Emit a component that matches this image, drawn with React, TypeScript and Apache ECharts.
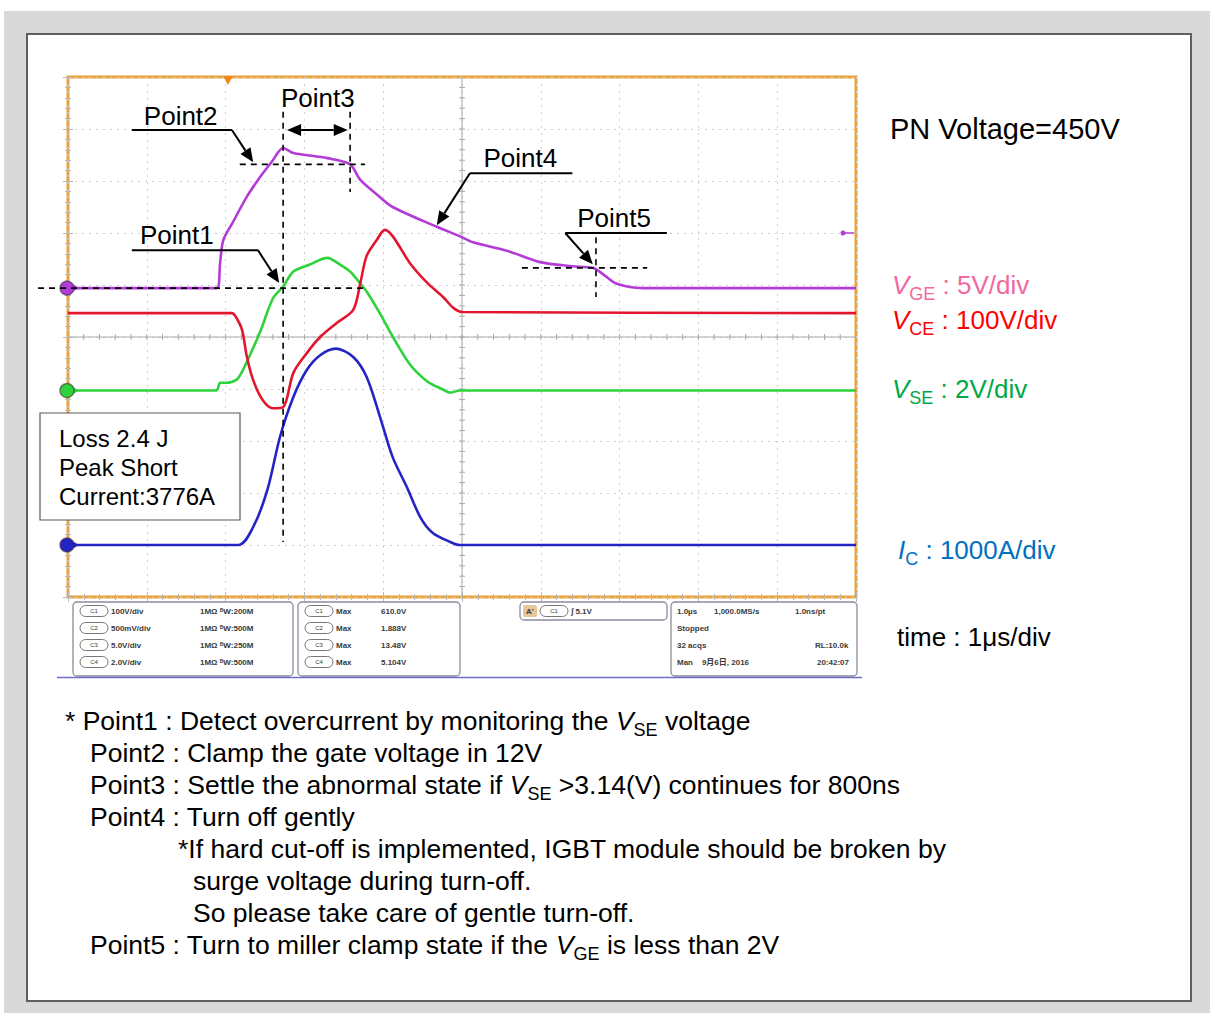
import React, { useEffect, useRef } from "react";
import * as echarts from "echarts";

const FONT = '"Liberation Sans", Arial, "Noto Sans CJK SC", sans-serif';

// Time base: 1 µs/div, 10 divisions; times in µs from the left edge of the record.
// VGE (C3, volts)
const vgeTime = [0, 1.89, 1.93, 1.97, 2.09, 2.27, 2.44, 2.6, 2.73, 2.86, 3.29, 3.58, 3.71, 3.92, 4.12, 4.68, 4.97, 5.14, 5.57, 5.99, 6.4, 6.66, 6.78, 6.94, 7.13, 7.3, 10];
const vgeVolts = [0, 0, 2.4, 4.6, 6.3, 8.8, 10.7, 12.3, 13.48, 13.0, 12.5, 11.9, 10.4, 9.0, 7.8, 5.9, 5.0, 4.4, 3.6, 2.5, 2.1, 1.95, 1.4, 0.5, 0.1, 0, 0];

// VCE (C1, volts)
const vceTime = [0, 2.08, 2.14, 2.21, 2.27, 2.35, 2.47, 2.6, 2.73, 2.86, 3.03, 3.2, 3.41, 3.62, 3.71, 3.79, 3.92, 4.02, 4.12, 4.34, 4.56, 4.76, 4.89, 5.01, 10];
const vceVolts = [450, 450, 440, 417, 366, 321, 283, 267, 269, 335, 373, 404, 431, 456, 508, 560, 591, 610, 598, 546, 508, 481, 460, 452, 450];

// VSE (C4, volts)
const vseTime = [0, 1.88, 1.93, 2.0, 2.14, 2.21, 2.3, 2.44, 2.6, 2.73, 2.86, 3.07, 3.29, 3.45, 3.58, 3.71, 3.79, 3.96, 4.12, 4.34, 4.56, 4.76, 4.85, 4.97, 10];
const vseVolts = [0, 0, 0.3, 0.3, 0.42, 0.73, 1.3, 2.27, 3.54, 4.0, 4.58, 4.85, 5.104, 4.85, 4.58, 4.11, 3.81, 2.96, 2.08, 1.0, 0.35, 0.04, -0.08, 0, 0];

// IC (C2, amperes)
const icTime = [0, 2.16, 2.35, 2.53, 2.69, 2.86, 3.03, 3.2, 3.4, 3.62, 3.79, 3.96, 4.12, 4.3, 4.47, 4.63, 4.85, 4.97, 10];
const icAmps = [0, 0, 346, 1058, 2077, 2846, 3365, 3650, 3776, 3615, 3230, 2460, 1690, 1115, 538, 230, 58, 0, 0];

// Scope channel settings: units per division and ground level (in divisions from the bottom)
const CHANNELS = [
  { key: "IC", time: icTime, values: icAmps, perDiv: 1000, groundDiv: 1.0, color: "#2424c6", marker: true },
  { key: "VSE", time: vseTime, values: vseVolts, perDiv: 2, groundDiv: 3.97, color: "#2ed23a", marker: true },
  { key: "VCE", time: vceTime, values: vceVolts, perDiv: 100, groundDiv: 0.96, color: "#e3162f", marker: false },
  { key: "VGE", time: vgeTime, values: vgeVolts, perDiv: 5, groundDiv: 5.94, color: "#b33bd8", marker: true },
];

const TRIGGER_TIME = 2.03;
const TRIGGER_LEVEL_DIV = 7.0;

// Readout panel texts
const chanSetup = [
  ["C1", "100V/div", "200M"],
  ["C2", "500mV/div", "500M"],
  ["C3", "5.0V/div", "250M"],
  ["C4", "2.0V/div", "500M"],
];
const chanMax = [
  ["C1", "610.0V"],
  ["C2", "1.888V"],
  ["C3", "13.48V"],
  ["C4", "5.104V"],
];

const notes = [
  "* Point1 : Detect overcurrent by monitoring the {v|V}{s|SE} voltage",
  "Point2 : Clamp the gate voltage in 12V",
  "Point3 : Settle the abnormal state if {v|V}{s|SE} >3.14(V) continues for 800ns",
  "Point4 : Turn off gently",
  "*If hard cut-off is implemented, IGBT module should be broken by",
  "surge voltage during turn-off.",
  "So please take care of gentle turn-off.",
  "Point5 : Turn to miller clamp state if the {v|V}{s|GE} is less than 2V",
];

const makeRich = (size: number) => ({
  v: { fontStyle: "italic", fontSize: size, lineHeight: 36, fontFamily: FONT },
  s: { fontSize: 18, lineHeight: 18, verticalAlign: "bottom", fontFamily: FONT },
});

export default function App() {
  const ref = useRef<HTMLDivElement>(null);

  useEffect(() => {
    const chart = echarts.init(ref.current!, null, { renderer: "svg", width: 1210, height: 1013 });

    const tickGray = "#b9b9b9";
    const xBase = {
      type: "value",
      min: 0,
      max: 10,
      interval: 1,
      axisLine: { show: false },
      axisLabel: { show: false },
      axisTick: { show: true, inside: true, length: 5, lineStyle: { color: tickGray } },
      minorTick: { show: true, splitNumber: 5, length: 3, lineStyle: { color: tickGray } },
      splitLine: { show: false },
    };

    chart.setOption({
      animation: false,
      backgroundColor: "#ffffff",
      grid: {
        left: 68,
        top: 77,
        width: 788,
        height: 520,
        show: true,
        backgroundColor: "#ffffff",
        borderColor: "#eaa23a",
        borderWidth: 3,
      },
      xAxis: [
        { ...xBase, position: "bottom", splitLine: { show: true, lineStyle: { color: "#cfcfcf", type: [2, 5], width: 1 } } },
        { ...xBase, position: "top" },
      ],
      yAxis: [
        { ...xBase, position: "left", splitLine: { show: true, lineStyle: { color: "#cfcfcf", type: [2, 5], width: 1 } } },
        { ...xBase, position: "right" },
      ],
      series: CHANNELS.map((ch, i) => ({
        type: "line",
        name: ch.key,
        xAxisIndex: 0,
        yAxisIndex: 0,
        showSymbol: false,
        smooth: 0.3,
        z: 3 + i,
        lineStyle: { color: ch.color, width: 2.6 },
        data: ch.time.map((t, k) => [t, ch.groundDiv + ch.values[k] / ch.perDiv]),
      })),
    });

    const toPx = (t: number, d: number) =>
      chart.convertToPixel({ gridIndex: 0 }, [t, d]) as number[];

    const els: any[] = [];

    // page background and framed panel
    els.push({ type: "rect", z: -100, shape: { x: 4, y: 11, width: 1206, height: 1002 }, style: { fill: "#d9d9d9" } });
    els.push({
      type: "rect",
      z: -99,
      shape: { x: 27, y: 34, width: 1164, height: 967 },
      style: { fill: "#ffffff", stroke: "#5f5f5f", lineWidth: 2 },
    });

    // graticule centre cross with fine ticks
    const [cx, cy] = toPx(5, 5);
    const [gx0, gy1] = toPx(0, 0);
    const [gx1, gy0] = toPx(10, 10);
    const centerStyle = { stroke: "#a9a9a9", lineWidth: 1 };
    els.push({ type: "line", z: 1, shape: { x1: gx0, y1: cy, x2: gx1, y2: cy }, style: centerStyle });
    els.push({ type: "line", z: 1, shape: { x1: cx, y1: gy0, x2: cx, y2: gy1 }, style: centerStyle });
    for (let i = 1; i < 50; i++) {
      const [tx] = toPx(i * 0.2, 5);
      const [, ty] = toPx(5, i * 0.2);
      els.push({ type: "line", z: 1, shape: { x1: tx, y1: cy - 3, x2: tx, y2: cy + 3 }, style: centerStyle });
      els.push({ type: "line", z: 1, shape: { x1: cx - 3, y1: ty, x2: cx + 3, y2: ty }, style: centerStyle });
    }

    // trigger position marker on top edge
    const [trx, tryy] = toPx(TRIGGER_TIME, 10);
    els.push({
      type: "polygon",
      z: 20,
      shape: { points: [[trx - 5, tryy - 1], [trx + 5, tryy - 1], [trx, tryy + 8]] },
      style: { fill: "#f08a1c" },
    });
    // trigger level marker on right edge
    const [tlx, tly] = toPx(10, TRIGGER_LEVEL_DIV);
    els.push({ type: "line", z: 20, shape: { x1: tlx - 14, y1: tly, x2: tlx - 2, y2: tly }, style: { stroke: "#b33bd8", lineWidth: 1.5 } });
    els.push({ type: "circle", z: 20, shape: { cx: tlx - 13, cy: tly, r: 2.5 }, style: { fill: "#b33bd8" } });

    // channel ground markers on left edge
    CHANNELS.filter((c) => c.marker).forEach((ch) => {
      const [mx, my] = toPx(0, ch.groundDiv);
      els.push({
        type: "polygon",
        z: 21,
        shape: { points: [[mx + 4, my - 4], [mx + 4, my + 4], [mx + 11, my]] },
        style: { fill: ch.color },
      });
      els.push({
        type: "circle",
        z: 22,
        shape: { cx: mx - 1, cy: my, r: 7 },
        style: { fill: ch.color, stroke: "rgba(60,40,40,0.55)", lineWidth: 1.5 },
      });
    });

    // annotation helpers
    const black = "#000000";
    const dash = (a: number[], b: number[]) => {
      const p = toPx(a[0], a[1]);
      const q = toPx(b[0], b[1]);
      els.push({
        type: "line",
        z: 40,
        shape: { x1: p[0], y1: p[1], x2: q[0], y2: q[1] },
        style: { stroke: black, lineWidth: 1.6, lineDash: [6, 5] },
      });
    };
    const solid = (a: number[], b: number[]) => {
      const p = toPx(a[0], a[1]);
      const q = toPx(b[0], b[1]);
      els.push({
        type: "line",
        z: 40,
        shape: { x1: p[0], y1: p[1], x2: q[0], y2: q[1] },
        style: { stroke: black, lineWidth: 2 },
      });
    };
    const head = (from: number[], to: number[]) => {
      const dx = to[0] - from[0];
      const dy = to[1] - from[1];
      const L = Math.hypot(dx, dy);
      const ux = dx / L;
      const uy = dy / L;
      const len = 14;
      const half = 6;
      const bx = to[0] - ux * len;
      const by = to[1] - uy * len;
      return {
        base: [bx, by],
        poly: [to, [bx - uy * half, by + ux * half], [bx + uy * half, by - ux * half]],
      };
    };
    const arrow = (a: number[], b: number[], both = false) => {
      const p = toPx(a[0], a[1]);
      const q = toPx(b[0], b[1]);
      const h2 = head(p, q);
      let start = p;
      if (both) {
        const h1 = head(q, p);
        start = h1.base;
        els.push({ type: "polygon", z: 41, shape: { points: h1.poly }, style: { fill: black } });
      }
      els.push({
        type: "line",
        z: 40,
        shape: { x1: start[0], y1: start[1], x2: h2.base[0], y2: h2.base[1] },
        style: { stroke: black, lineWidth: 2 },
      });
      els.push({ type: "polygon", z: 41, shape: { points: h2.poly }, style: { fill: black } });
    };
    const label = (t: number, d: number, text: string) => {
      const [x, y] = toPx(t, d);
      els.push({
        type: "text",
        z: 42,
        x,
        y,
        style: { text, fill: black, fontSize: 26, fontFamily: FONT, align: "center", verticalAlign: "middle" },
      });
    };

    // Point1
    label(1.38, 6.96, "Point1");
    solid([0.81, 6.67], [2.41, 6.67]);
    arrow([2.41, 6.67], [2.68, 6.04]);
    dash([-0.38, 5.94], [3.79, 5.94]);
    // Point2
    label(1.43, 9.25, "Point2");
    solid([0.81, 8.98], [2.08, 8.98]);
    arrow([2.08, 8.98], [2.35, 8.36]);
    dash([2.18, 8.32], [3.77, 8.32]);
    // Point3
    label(3.17, 9.6, "Point3");
    dash([2.73, 9.33], [2.73, 1.06]);
    dash([3.58, 9.33], [3.58, 7.79]);
    arrow([2.78, 8.98], [3.55, 8.98], true);
    // Point4
    label(5.74, 8.44, "Point4");
    solid([5.1, 8.15], [6.4, 8.15]);
    arrow([5.1, 8.15], [4.68, 7.15]);
    // Point5
    label(6.93, 7.29, "Point5");
    solid([6.31, 7.0], [7.6, 7.0]);
    arrow([6.31, 7.0], [6.66, 6.4]);
    dash([6.7, 6.92], [6.7, 5.77]);
    dash([5.76, 6.33], [7.35, 6.33]);

    // loss / peak current box
    els.push({
      type: "rect",
      z: 60,
      shape: { x: 40, y: 413, width: 200, height: 107 },
      style: { fill: "#ffffff", stroke: "#595959", lineWidth: 1.2 },
    });
    ["Loss 2.4 J", "Peak Short", "Current:3776A"].forEach((s, i) => {
      els.push({
        type: "text",
        z: 61,
        x: 59,
        y: 438 + i * 29,
        style: { text: s, fill: black, fontSize: 24, fontFamily: FONT, align: "left", verticalAlign: "middle" },
      });
    });

    // scope readout panel
    const ro = { fill: "#3a3a3a", fontSize: 8, fontWeight: "bold", fontFamily: FONT, verticalAlign: "middle" };
    const box = (x: number, y: number, w: number, h: number) =>
      els.push({
        type: "rect",
        z: 5,
        shape: { x, y, width: w, height: h, r: 4 },
        style: { fill: "#ffffff", stroke: "#8c8c9a", lineWidth: 1.3 },
      });
    const pill = (x: number, y: number, txt: string) => {
      els.push({
        type: "rect",
        z: 6,
        shape: { x, y: y - 5.5, width: 28, height: 11, r: 5.5 },
        style: { fill: "#ffffff", stroke: "#777777", lineWidth: 1 },
      });
      els.push({
        type: "text",
        z: 7,
        x: x + 14,
        y,
        style: { ...ro, text: txt, fontSize: 6, fontWeight: "normal", align: "center" },
      });
    };
    const txt = (x: number, y: number, s: string, align = "left") =>
      els.push({ type: "text", z: 7, x, y, style: { ...ro, text: s, align } });

    box(73, 602, 220, 74);
    box(298, 602, 162, 74);
    box(520, 602, 147, 18);
    box(671, 602, 186, 74);
    chanSetup.forEach((row, i) => {
      const y = 611 + i * 17;
      pill(80, y, row[0]);
      txt(111, y, row[1]);
      els.push({
        type: "text",
        z: 7,
        x: 200,
        y,
        style: {
          ...ro,
          text: "1MΩ {b|B}W:" + row[2],
          rich: { b: { fontSize: 5, fontWeight: "bold", verticalAlign: "top", fill: "#3a3a3a" } },
        },
      });
    });
    chanMax.forEach((row, i) => {
      const y = 611 + i * 17;
      pill(305, y, row[0]);
      txt(336, y, "Max");
      txt(381, y, row[1]);
    });
    els.push({ type: "rect", z: 6, shape: { x: 523, y: 605, width: 14, height: 12, r: 2 }, style: { fill: "#e6c79a" } });
    txt(526, 611, "A'");
    pill(540, 611, "C1");
    txt(571, 611, "∫ 5.1V");
    txt(677, 611, "1.0µs");
    txt(714, 611, "1,000.0MS/s");
    txt(795, 611, "1.0ns/pt");
    txt(677, 628, "Stopped");
    txt(677, 645, "32 acqs");
    txt(815, 645, "RL:10.0k");
    txt(677, 662, "Man    9月6日, 2016");
    txt(849, 662, "20:42:07", "right");
    els.push({
      type: "line",
      z: 5,
      shape: { x1: 57, y1: 677.5, x2: 862, y2: 677.5 },
      style: { stroke: "#6e6ec8", lineWidth: 1.6 },
    });

    // right-hand captions and notes (rich text with italic symbol + subscript)
    const caption = (x: number, y: number, text: string, fill: string, size = 26) =>
      els.push({
        type: "text",
        z: 10,
        x,
        y,
        style: {
          text,
          fill,
          fontSize: size,
          lineHeight: 36,
          fontFamily: FONT,
          align: "left",
          verticalAlign: "middle",
          rich: makeRich(size),
        },
      });
    caption(890, 129, "PN Voltage=450V", "#000000", 29);
    caption(892, 285, "{v|V}{s|GE} : 5V/div", "#f2679e");
    caption(892, 320, "{v|V}{s|CE} : 100V/div", "#ff0000");
    caption(892, 389, "{v|V}{s|SE} : 2V/div", "#00a847");
    caption(898, 550, "{v|I}{s|C} : 1000A/div", "#0070c0");
    caption(897, 637, "time : 1μs/div", "#000000");

    const noteX = [65, 90, 90, 90, 178, 193, 193, 90];
    notes.forEach((n, i) => caption(noteX[i], 721 + i * 32, n, "#000000", 26.5));

    chart.setOption({ graphic: { elements: els } });

    return () => chart.dispose();
  }, []);

  return <div ref={ref} style={{ position: "absolute", left: 0, top: 0, width: 1210, height: 1013 }} />;
}
